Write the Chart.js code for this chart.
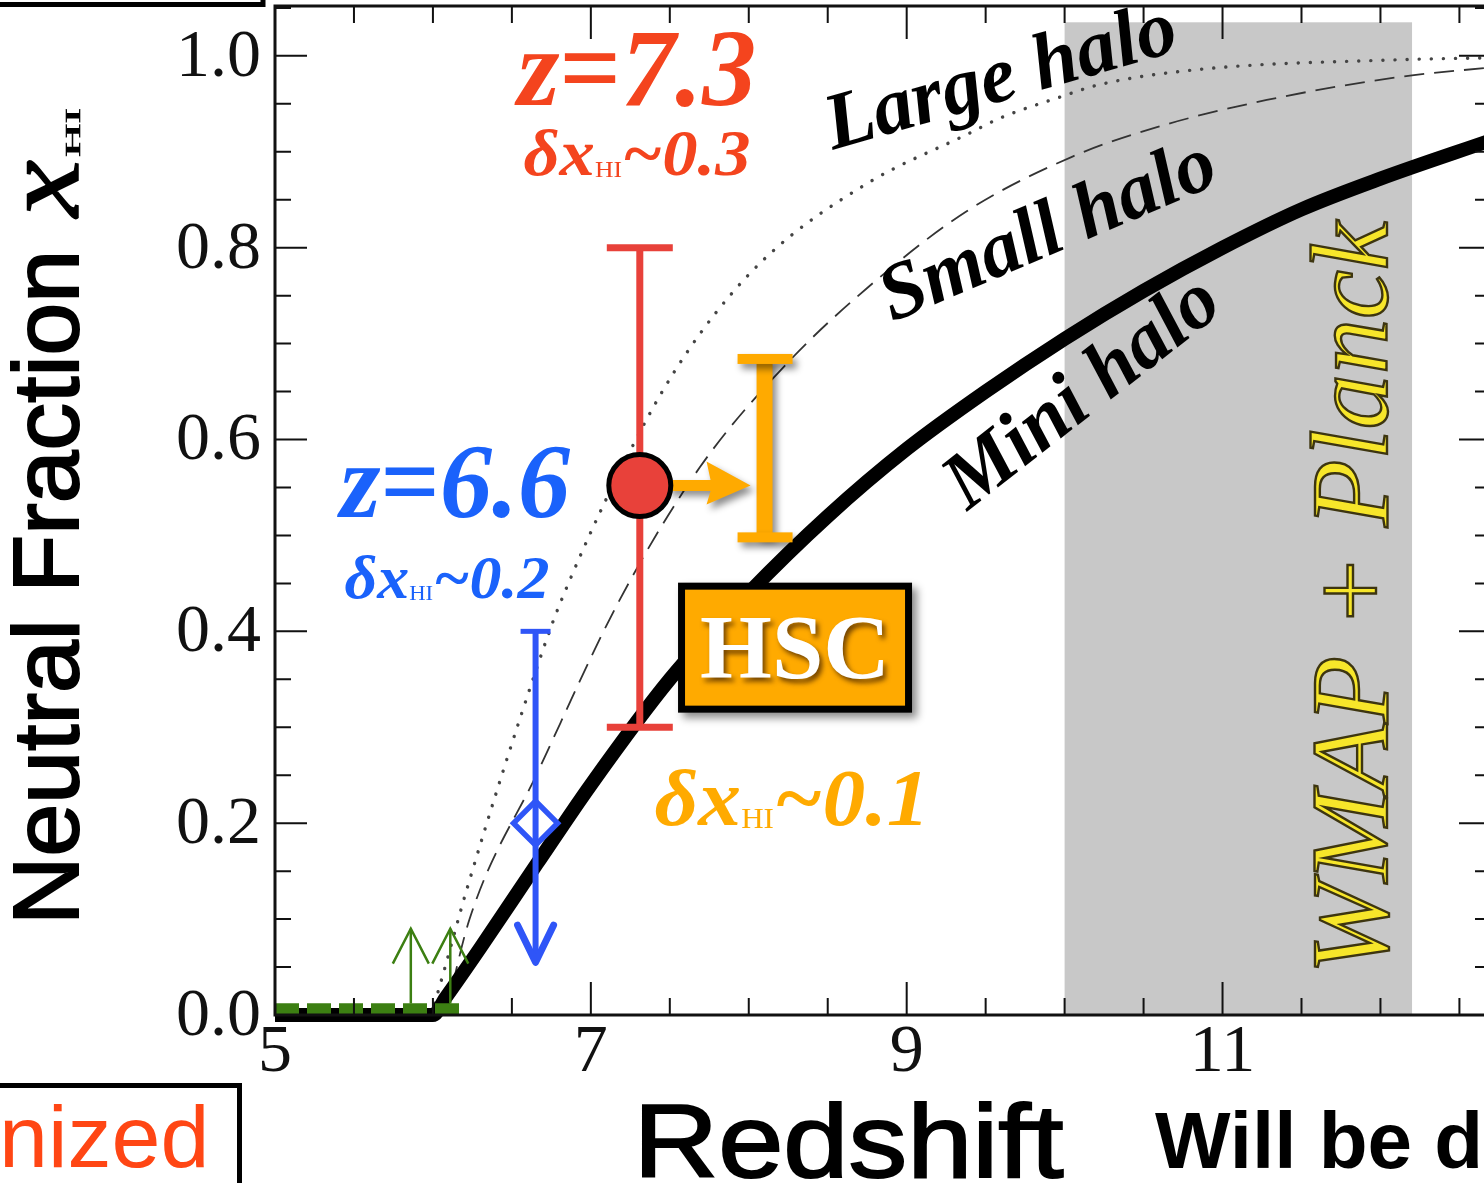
<!DOCTYPE html>
<html><head><meta charset="utf-8">
<script src="https://cdn.jsdelivr.net/npm/chart.js@4.4.1/dist/chart.umd.min.js"></script>
<style>html,body{margin:0;padding:0;background:#fff;overflow:hidden;width:1484px;height:1183px}canvas{display:block}</style>
</head><body>
<canvas id="c" width="1492" height="1183" style="width:1492px;height:1183px"></canvas>
<script>
// ---- data ----
const miniZ   = [5.0, 6.0, 6.08, 6.3, 6.66, 7.0, 7.5, 8.0, 8.5, 9.0, 9.5, 10.0, 10.5, 11.0, 11.5, 12.0, 12.7];
const miniXHI = [0, 0, 0.018, 0.07, 0.158, 0.24, 0.35, 0.44, 0.52, 0.59, 0.65, 0.705, 0.755, 0.80, 0.84, 0.872, 0.912];
const smallZ   = [6.08, 6.23, 6.66, 7.18, 7.69, 8.24, 8.75, 9.38, 10.05, 10.59, 11.28, 12.12, 12.7];
const smallXHI = [0, 0.099, 0.252, 0.432, 0.571, 0.679, 0.758, 0.838, 0.895, 0.926, 0.954, 0.978, 0.988];
const largeZ   = [5.99, 6.06, 6.22, 6.66, 6.80, 7.35, 7.69, 8.11, 8.75, 9.38, 9.59, 9.97, 10.22, 10.86, 12.12, 12.7];
const largeXHI = [0, 0.04, 0.134, 0.363, 0.427, 0.62, 0.71, 0.79, 0.867, 0.918, 0.935, 0.957, 0.97, 0.986, 0.996, 0.998];
const greenZ   = [5.0, 6.18];
const greenXHI = [0.006, 0.006];
const greenLimitZ    = [5.86, 6.11];
const greenLimitFrom = [0.012, 0.012];
const greenLimitTo   = [0.09, 0.09];
const blueZ = [6.65], blueXHI = [0.2], blueUpper = [0.4], blueArrowTo = [0.055];
const redZ = [7.31], redXHI = [0.552], redLow = [0.3], redHigh = [0.8];
const hscZ = [8.1], hscXHI = [0.552], hscLow = [0.498], hscHigh = [0.684];
const bandZ = [10.0, 12.2], bandTop = [1.035];
const xTickValues = [5, 7, 9, 11];
const xTickLabels = ['5', '7', '9', '11'];
const yTickValues = [0, 0.2, 0.4, 0.6, 0.8, 1.0];
const yTickLabels = ['0.0', '0.2', '0.4', '0.6', '0.8', '1.0'];

const RED = '#e8413a', RED_TXT = '#f4441e', BLUE = '#2f55f7', BLUE_TXT = '#1a62fb',
      ORANGE = '#ffaa00', GREEN = '#3c7f12', BAND = '#c8c8c8';
const SERIF = '"Liberation Serif", "DejaVu Serif", serif';
const SANS = '"Liberation Sans", Arial, sans-serif';

const toXY = (xs, ys) => xs.map((x, i) => ({x, y: ys[i]}));

function drawRich(ctx, segs, cx, by, targetW, rot, baseline, opt) {
  opt = opt || {};
  ctx.save();
  let W = 0;
  const ws = segs.map(s => { ctx.font = s.font; const w = ctx.measureText(s.t).width; W += w + (s.gap || 0); return w; });
  const sx = targetW ? targetW / W : 1;
  ctx.translate(cx, by);
  if (rot) ctx.rotate(rot);
  ctx.scale(sx, 1);
  ctx.textAlign = 'left';
  ctx.textBaseline = baseline || 'alphabetic';
  let x = -W / 2;
  segs.forEach((s, i) => {
    ctx.font = s.font;
    if (opt.shadow) { ctx.shadowColor = opt.shadow; ctx.shadowBlur = opt.blur || 4; ctx.shadowOffsetX = opt.ox || 3; ctx.shadowOffsetY = opt.oy || 3; }
    ctx.fillStyle = s.color || opt.color || '#000';
    ctx.fillText(s.t, x, s.dy || 0);
    ctx.shadowColor = 'transparent';
    if (opt.stroke) { ctx.lineWidth = opt.lw || 1.5; ctx.strokeStyle = opt.stroke; ctx.strokeText(s.t, x, s.dy || 0); }
    x += ws[i] + (s.gap || 0);
  });
  ctx.restore();
}

function deltaSegs(size, tail, color) {
  const f = `bold italic ${size}px ${SERIF}`;
  return [
    {t: 'δ', font: f, color},
    {t: 'x', font: f, color},
    {t: 'HI', font: `${Math.round(size * 0.36)}px ${SERIF}`, dy: size * 0.04, color},
    {t: '~' + tail, font: f, color}
  ];
}

const deco = {
  id: 'deco',
  beforeDatasetsDraw(chart) {
    const ctx = chart.ctx, xs = chart.scales.x, ys = chart.scales.y;
    const x0 = xs.getPixelForValue(bandZ[0]), x1 = xs.getPixelForValue(bandZ[1]);
    const yT = ys.getPixelForValue(bandTop[0]), yB = ys.getPixelForValue(0);
    ctx.save(); ctx.fillStyle = BAND; ctx.fillRect(x0, yT, x1 - x0, yB - yT); ctx.restore();
  },
  beforeDatasetDraw(chart, args) {
    const ctx = chart.ctx, xs = chart.scales.x, ys = chart.scales.y;
    const X = v => xs.getPixelForValue(v), Y = v => ys.getPixelForValue(v);
    ctx.save();
    if (args.index === 0) {
      redZ.forEach((z, i) => {
        const x = X(z);
        ctx.strokeStyle = RED; ctx.lineWidth = 7; ctx.lineCap = 'butt';
        ctx.beginPath(); ctx.moveTo(x, Y(redLow[i])); ctx.lineTo(x, Y(redHigh[i])); ctx.stroke();
        ctx.lineWidth = 7;
        ctx.beginPath(); ctx.moveTo(x - 33, Y(redHigh[i])); ctx.lineTo(x + 33, Y(redHigh[i]));
        ctx.moveTo(x - 33, Y(redLow[i])); ctx.lineTo(x + 33, Y(redLow[i])); ctx.stroke();
      });
      hscZ.forEach((z, i) => {
        const x = X(z);
        ctx.save();
        ctx.shadowColor = 'rgba(0,0,0,0.45)'; ctx.shadowBlur = 7; ctx.shadowOffsetX = 4; ctx.shadowOffsetY = 5;
        ctx.fillStyle = ORANGE;
        const yh = Y(hscHigh[i]), yl = Y(hscLow[i]);
        ctx.fillRect(x - 8, yh, 16, yl - yh);
        ctx.fillRect(x - 27, yh - 5, 55, 10);
        ctx.fillRect(x - 27, yl - 5, 55, 10);
        const ay = Y(hscXHI[i]);
        const ax0 = X(redZ[i]) + 28, ax1 = x - 14;
        ctx.beginPath();
        ctx.moveTo(ax0, ay - 5.5); ctx.lineTo(ax1 - 40, ay - 5.5); ctx.lineTo(ax1 - 44, ay - 24);
        ctx.lineTo(ax1, ay); ctx.lineTo(ax1 - 44, ay + 19); ctx.lineTo(ax1 - 40, ay + 5.5);
        ctx.lineTo(ax0, ay + 5.5); ctx.closePath(); ctx.fill();
        ctx.restore();
      });
    }
    if (args.index === 1) {
      blueZ.forEach((z, i) => {
        const x = X(z), yu = Y(blueUpper[i]), ya = Y(blueArrowTo[i]);
        ctx.strokeStyle = BLUE; ctx.lineWidth = 6;
        ctx.beginPath(); ctx.moveTo(x, yu); ctx.lineTo(x, ya); ctx.stroke();
        ctx.lineWidth = 5;
        ctx.beginPath(); ctx.moveTo(x - 15, yu); ctx.lineTo(x + 15, yu); ctx.stroke();
        ctx.lineWidth = 7; ctx.lineCap = 'round'; ctx.lineJoin = 'round';
        ctx.beginPath(); ctx.moveTo(x - 18, ya - 37); ctx.lineTo(x, ya); ctx.lineTo(x + 18, ya - 37); ctx.stroke();
      });
    }
    ctx.restore();
  },
  afterDatasetDraw(chart, args) {
    if (args.index !== 2) return;
    const ctx = chart.ctx, xs = chart.scales.x, ys = chart.scales.y;
    ctx.save(); ctx.strokeStyle = GREEN; ctx.lineWidth = 2.5; ctx.lineJoin = 'miter';
    greenLimitZ.forEach((z, i) => {
      const x = xs.getPixelForValue(z), y0 = ys.getPixelForValue(greenLimitFrom[i]), y1 = ys.getPixelForValue(greenLimitTo[i]);
      ctx.beginPath(); ctx.moveTo(x, y0); ctx.lineTo(x, y1); ctx.stroke();
      ctx.beginPath(); ctx.moveTo(x - 18, y1 + 35); ctx.lineTo(x, y1); ctx.lineTo(x + 18, y1 + 35); ctx.stroke();
    });
    ctx.restore();
  },
  afterDatasetsDraw(chart) {
    const ctx = chart.ctx, xs = chart.scales.x, ys = chart.scales.y;
    const {left, right, top, bottom} = chart.chartArea;
    const bx = xs.getPixelForValue(8.293), by = ys.getPixelForValue(0.383);
    ctx.save();
    ctx.shadowColor = 'rgba(0,0,0,0.45)'; ctx.shadowBlur = 8; ctx.shadowOffsetX = 5; ctx.shadowOffsetY = 5;
    ctx.fillStyle = '#000'; ctx.fillRect(bx - 117, by - 65, 234, 130);
    ctx.shadowColor = 'transparent';
    ctx.fillStyle = ORANGE; ctx.fillRect(bx - 110, by - 58, 220, 116);
    ctx.restore();
    drawRich(ctx, [{t: 'HSC', font: `bold 90px ${SERIF}`}], bx, by + 30, 190, 0, 'alphabetic',
             {color: '#fff', shadow: 'rgba(70,35,0,0.75)', blur: 5, ox: 3, oy: 4});
    ctx.save();
    ctx.strokeStyle = '#111'; ctx.lineWidth = 3;
    ctx.strokeRect(left, top, right - left, bottom - top);
    ctx.lineWidth = 2;
    ctx.beginPath();
    for (let k = 0; k <= 21; k++) {
      const y = ys.getPixelForValue(k * 0.05), len = (k % 4 === 0) ? 32 : 16;
      ctx.moveTo(left, y); ctx.lineTo(left + len, y);
      ctx.moveTo(right, y); ctx.lineTo(right - len, y);
    }
    for (let k = 0; k <= 15; k++) {
      const x = xs.getPixelForValue(5 + k * 0.5), len = (k % 4 === 0) ? 33 : 17;
      ctx.moveTo(x, bottom); ctx.lineTo(x, bottom - len);
      ctx.moveTo(x, top); ctx.lineTo(x, top + len);
    }
    ctx.stroke();
    ctx.restore();
  },
  afterDraw(chart) {
    const ctx = chart.ctx, xs = chart.scales.x, ys = chart.scales.y;
    const X = v => xs.getPixelForValue(v), Y = v => ys.getPixelForValue(v);
    const bi = s => `bold italic ${s}px ${SERIF}`;
    ctx.save();
    ctx.font = `68px ${SERIF}`; ctx.fillStyle = '#111';
    ctx.textAlign = 'right'; ctx.textBaseline = 'middle';
    yTickValues.forEach((v, i) => ctx.fillText(yTickLabels[i], chart.chartArea.left - 14, Y(v) + 2));
    ctx.textAlign = 'center';
    xTickValues.forEach((v, i) => ctx.fillText(xTickLabels[i], X(v), chart.chartArea.bottom + 38));
    ctx.restore();
    drawRich(ctx, [{t: 'z', font: bi(110)}, {t: '=', font: `bold 110px ${SERIF}`}, {t: '7.3', font: bi(110)}],
             X(7.292), Y(0.949), 239, 0, 'alphabetic', {color: RED_TXT});
    drawRich(ctx, deltaSegs(66, '0.3', RED_TXT), X(7.292), Y(0.876), 227);
    drawRich(ctx, [{t: 'z', font: bi(106)}, {t: '=', font: `bold 106px ${SERIF}`}, {t: '6.6', font: bi(106)}],
             X(6.14), Y(0.519), 230, 0, 'alphabetic', {color: BLUE_TXT});
    drawRich(ctx, deltaSegs(62, '0.2', BLUE_TXT), X(6.089), Y(0.435), 205);
    drawRich(ctx, deltaSegs(80, '0.1', ORANGE), X(8.274), Y(0.198), 275);
    drawRich(ctx, [{t: 'Large halo', font: bi(80)}], X(9.6), Y(0.975), 0, -16 * Math.PI / 180, 'middle');
    drawRich(ctx, [{t: 'Small halo', font: bi(80)}], X(9.9), Y(0.815), 0, -23 * Math.PI / 180, 'middle');
    drawRich(ctx, [{t: 'Mini halo', font: bi(80)}], X(10.12), Y(0.647), 0, -38 * Math.PI / 180, 'middle');
    drawRich(ctx, [{t: 'WMAP + Planck', font: `italic 110px ${SERIF}`}], X(11.86), Y(0.435), 753, -Math.PI / 2, 'middle',
             {color: '#f7e62a', stroke: '#3d3510', lw: 2.4});
    drawRich(ctx, [{t: 'Neutral Fraction', font: `92px ${SANS}`}], 78, 587.5, 675, -Math.PI / 2, 'alphabetic',
             {color: '#000', stroke: '#000', lw: 2});
    drawRich(ctx, [{t: 'x', font: `italic 110px ${SERIF}`}], 78, 188.5, 57, -Math.PI / 2, 'alphabetic', {color: '#000', stroke: '#000', lw: 1.5});
    drawRich(ctx, [{t: 'HI', font: `22px ${SERIF}`}], 80, 132.5, 49, -Math.PI / 2, 'alphabetic', {color: '#000', stroke: '#000', lw: 0.6});
    drawRich(ctx, [{t: 'Redshift', font: `104px ${SANS}`}], 848.5, 1177, 430, 0, 'alphabetic',
             {color: '#000', stroke: '#000', lw: 2});
    ctx.save();
    ctx.font = `bold 80px ${SANS}`; ctx.fillStyle = '#000'; ctx.textBaseline = 'alphabetic'; ctx.textAlign = 'left';
    ctx.fillText('Will be d', 1155, 1168);
    ctx.font = `88px ${SANS}`; ctx.fillStyle = '#ff4614';
    ctx.fillText('nized', -1, 1167);
    ctx.strokeStyle = '#000'; ctx.lineWidth = 5;
    ctx.beginPath(); ctx.moveTo(0, 1085.5); ctx.lineTo(239.5, 1085.5); ctx.lineTo(239.5, 1183); ctx.stroke();
    ctx.beginPath(); ctx.moveTo(0, 4.5); ctx.lineTo(263, 4.5); ctx.lineTo(263, 0); ctx.stroke();
    ctx.restore();
  }
};

new Chart(document.getElementById('c'), {
  type: 'scatter',
  data: {
    datasets: [
      {label: 'z=7.3', data: toXY(redZ, redXHI), pointRadius: 31, pointHoverRadius: 31, pointBackgroundColor: RED,
       pointBorderColor: '#000', pointBorderWidth: 5, showLine: false, order: 0, clip: false},
      {label: 'z=6.6', data: toXY(blueZ, blueXHI), pointStyle: 'rectRot', pointRadius: 22, pointBackgroundColor: 'rgba(0,0,0,0)',
       pointBorderColor: BLUE, pointBorderWidth: 5.5, showLine: false, order: 1, clip: false},
      {label: 'z<6 limits', data: toXY(greenZ, greenXHI), showLine: true, borderColor: GREEN, borderWidth: 12,
       borderDash: [24, 8], pointRadius: 0, order: 2, clip: false},
      {label: 'Mini halo', data: toXY(miniZ, miniXHI), showLine: true, borderColor: '#000', borderWidth: 14,
       pointRadius: 0, cubicInterpolationMode: 'monotone', order: 3, clip: false},
      {label: 'Small halo', data: toXY(smallZ, smallXHI), showLine: true, borderColor: '#333', borderWidth: 1.8,
       borderDash: [20, 10], pointRadius: 0, cubicInterpolationMode: 'monotone', order: 4, clip: false},
      {label: 'Large halo', data: toXY(largeZ, largeXHI), showLine: true, borderColor: '#444', borderWidth: 3.4,
       borderDash: [0.1, 12], borderCapStyle: 'round', pointRadius: 0, cubicInterpolationMode: 'monotone', order: 5, clip: false}
    ]
  },
  options: {
    responsive: false, animation: false, devicePixelRatio: 1,
    layout: {autoPadding: false, padding: {top: 6, right: 1, left: 0, bottom: 0}},
    plugins: {legend: {display: false}, tooltip: {enabled: false}},
    events: [],
    scales: {
      x: {type: 'linear', min: 5, max: 12.7,
          grid: {display: false, drawTicks: false}, border: {display: false},
          ticks: {display: false},
          afterFit: s => { s.height = 168; }},
      y: {type: 'linear', min: 0, max: 1.052,
          grid: {display: false, drawTicks: false}, border: {display: false},
          ticks: {display: false},
          afterFit: s => { s.width = 275; }}
    }
  },
  plugins: [deco]
});
</script>
</body></html>
